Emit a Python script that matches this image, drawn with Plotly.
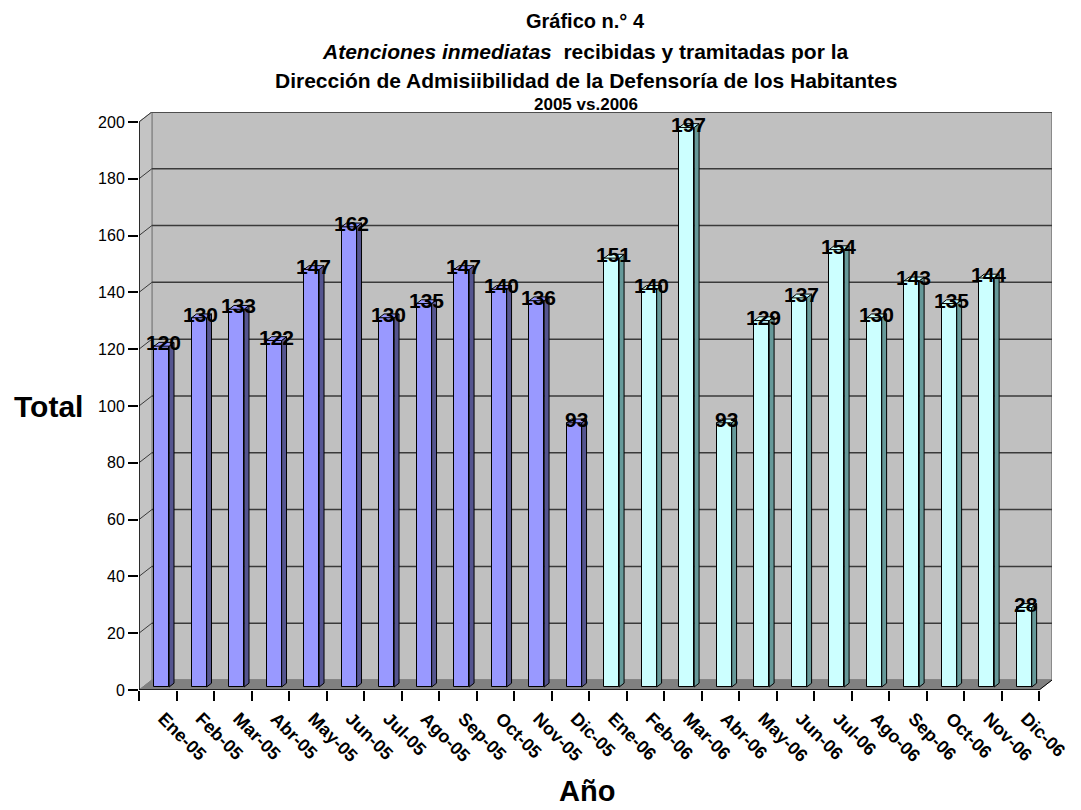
import plotly.graph_objects as go

# ---- data -------------------------------------------------------------
months = ["Ene", "Feb", "Mar", "Abr", "May", "Jun",
          "Jul", "Ago", "Sep", "Oct", "Nov", "Dic"]
labels_2005 = [f"{m}-05" for m in months]
labels_2006 = [f"{m}-06" for m in months]
values_2005 = [120, 130, 133, 122, 147, 162, 130, 135, 147, 140, 136, 93]
values_2006 = [151, 140, 197, 93, 129, 137, 154, 130, 143, 135, 144, 28]
y_ticks = list(range(0, 201, 20))

# ---- pseudo-3D geometry (data units) ----------------------------------
DX, DY = 0.343, 3.52        # depth of the box (x categories, y value units)
F0, F1 = 0.30, 0.68         # bar front / back depth fractions
BAR_W = 0.40
Y_TOP = 203.5
X_MIN, X_MAX = -0.5, 23.5 + DX

FONT = "Arial, Liberation Sans, sans-serif"
GRID_COL = "#3a3a3a"

categories = labels_2005 + labels_2006
values = values_2005 + values_2006
n = len(values)

fig = go.Figure()


def add_series(idx, vals, front, side, name):
    fx = [i + F0 * DX for i in idx]
    base = F0 * DY
    sx = (F1 - F0) * DX
    sy = (F1 - F0) * DY
    fig.add_trace(go.Bar(
        x=fx, y=vals, base=[base] * len(vals), width=BAR_W,
        marker=dict(color=front, line=dict(color="black", width=1)),
        name=name, showlegend=False,
    ))
    side_x, side_y, top_x, top_y = [], [], [], []
    for x, v in zip(fx, vals):
        xl, xr = x - BAR_W / 2, x + BAR_W / 2
        side_x += [xr, xr + sx, xr + sx, xr, xr, None]
        side_y += [base, base + sy, base + sy + v, base + v, base, None]
        top_x += [xl, xl + sx, xr + sx, xr, xl, None]
        top_y += [base + v, base + v + sy, base + v + sy, base + v, base + v, None]
    fig.add_trace(go.Scatter(x=side_x, y=side_y, mode="lines", fill="toself",
                             fillcolor=side, line=dict(color="black", width=1),
                             showlegend=False, hoverinfo="skip"))
    fig.add_trace(go.Scatter(x=top_x, y=top_y, mode="lines", fill="toself",
                             fillcolor=front, line=dict(color="black", width=1),
                             showlegend=False, hoverinfo="skip"))
    for x, v in zip(fx, vals):
        fig.add_annotation(x=x + 0.05, y=base + v + 1.2, text=f"<b>{v}</b>",
                           showarrow=False, xanchor="center", yanchor="middle",
                           font=dict(family=FONT, size=21, color="black"))


add_series(list(range(12)), values_2005, "#9999FF", "#55558F", "2005")
add_series(list(range(12, 24)), values_2006, "#CCFFFF", "#669999", "2006")

# ---- walls, floor and grid --------------------------------------------
shapes = []
# back wall
shapes.append(dict(type="rect", xref="x", yref="y", layer="below",
                   x0=X_MIN + DX, x1=X_MAX, y0=DY, y1=Y_TOP,
                   fillcolor="#C0C0C0", line=dict(color="#8a8a8a", width=2)))
# left side wall
shapes.append(dict(type="path", xref="x", yref="y", layer="below",
                   path=f"M {X_MIN},0 L {X_MIN + DX},{DY} L {X_MIN + DX},{Y_TOP} "
                        f"L {X_MIN},{y_ticks[-1]} Z",
                   fillcolor="#C4C4C4", line=dict(color="#8a8a8a", width=1)))
# floor
shapes.append(dict(type="path", xref="x", yref="y", layer="below",
                   path=f"M {X_MIN},0 L {X_MAX - DX},0 L {X_MAX},{DY} "
                        f"L {X_MIN + DX},{DY} Z",
                   fillcolor="#808080", line=dict(color="#808080", width=1)))
# grid lines on back wall + diagonals on side wall
for v in y_ticks[1:]:
    shapes.append(dict(type="line", xref="x", yref="y", layer="below",
                       x0=X_MIN + DX, x1=X_MAX, y0=v + DY, y1=v + DY,
                       line=dict(color=GRID_COL, width=1.5)))
    shapes.append(dict(type="line", xref="x", yref="y", layer="below",
                       x0=X_MIN, x1=X_MIN + DX, y0=v, y1=v + DY,
                       line=dict(color=GRID_COL, width=1)))
# front edges
shapes.append(dict(type="line", xref="x", yref="y", layer="below",
                   x0=X_MIN, x1=X_MIN, y0=0, y1=y_ticks[-1],
                   line=dict(color="black", width=1.5)))
shapes.append(dict(type="line", xref="x", yref="y", layer="below",
                   x0=X_MIN, x1=X_MAX - DX, y0=0, y1=0,
                   line=dict(color="black", width=1.5)))
shapes.append(dict(type="line", xref="x", yref="y", layer="below",
                   x0=X_MAX - DX, x1=X_MAX, y0=0, y1=DY,
                   line=dict(color="black", width=1)))

# ---- titles -----------------------------------------------------------
PLOT_L, PLOT_R, PLOT_T, PLOT_B = 139, 1061, 112, 690


def py(px):
    return (PLOT_B - px) / (PLOT_B - PLOT_T)


def pxx(px):
    return (px - PLOT_L) / (PLOT_R - PLOT_L)


title_lines = [
    ("<b>Gráfico n.° 4</b>", 21, 20),
    ("<b><i>Atenciones inmediatas</i>  recibidas y tramitadas por la</b>", 51, 21),
    ("<b>Dirección de Admisiibilidad de la Defensoría de los Habitantes</b>", 81, 21),
    ("<b>2005 vs.2006</b>", 104, 17),
]
for text, ypix, size in title_lines:
    fig.add_annotation(xref="paper", yref="paper", x=pxx(590), y=py(ypix),
                       text=text, showarrow=False, xanchor="center",
                       yanchor="middle",
                       font=dict(family=FONT, size=size, color="black"))

fig.add_annotation(xref="paper", yref="paper", x=pxx(48), y=py(407),
                   text="<b>Total</b>", showarrow=False, xanchor="center",
                   yanchor="middle",
                   font=dict(family=FONT, size=30, color="black"))
fig.add_annotation(xref="paper", yref="paper", x=pxx(591), y=py(791),
                   text="<b>Año</b>", showarrow=False, xanchor="center",
                   yanchor="middle",
                   font=dict(family=FONT, size=29, color="black"))

fig.update_layout(
    width=1081, height=810,
    margin=dict(l=PLOT_L, r=1081 - PLOT_R, t=PLOT_T, b=810 - PLOT_B),
    paper_bgcolor="white", plot_bgcolor="white",
    shapes=shapes, bargap=0,
    xaxis=dict(range=[X_MIN, X_MAX], showgrid=False, zeroline=False,
               showline=False, tickmode="array",
               tickvals=[i + 0.15 for i in range(n)],
               ticktext=[f"<b>{c}</b>" for c in categories],
               tickangle=45, ticks="outside", ticklen=10,
               tickcolor="rgba(0,0,0,0)",
               tickfont=dict(family=FONT, size=18, color="black"),
               minor=dict(tickmode="array",
                          tickvals=[i - 0.5 for i in range(n + 1)],
                          ticks="outside", ticklen=10, tickcolor="black",
                          tickwidth=1.5)),
    yaxis=dict(range=[0, Y_TOP], showgrid=False, zeroline=False,
               showline=False, tickmode="array", tickvals=y_ticks,
               ticks="outside", ticklen=10, tickcolor="black", tickwidth=1.5,
               tickfont=dict(family=FONT, size=16, color="black")),
)

fig.write_html("out.html")
